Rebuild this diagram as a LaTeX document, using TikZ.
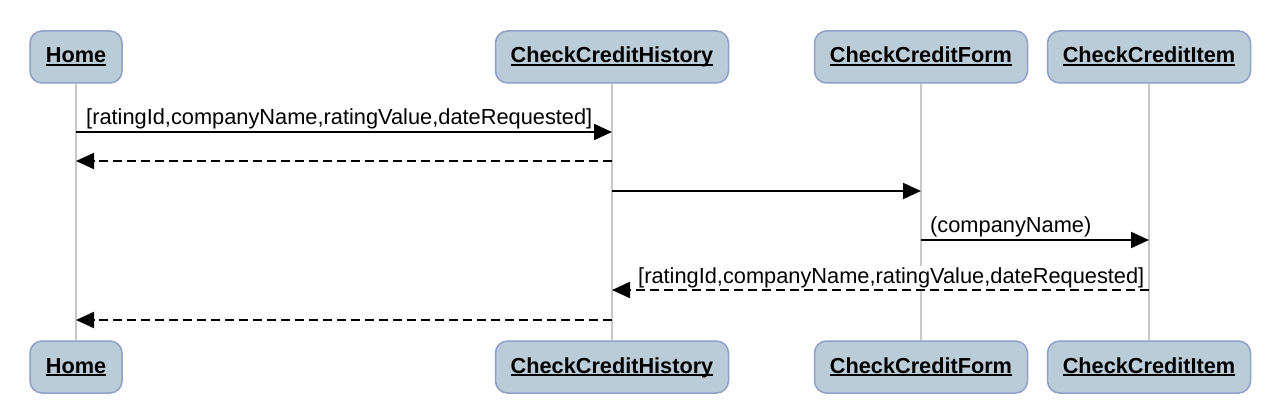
\documentclass[tikz,border=0pt]{standalone}
\usepackage{fontspec}
\setmainfont{Liberation Sans}
\usetikzlibrary{arrows.meta}
\newcommand\ulname[1]{\setbox0\hbox{#1}\rlap{\rule[-3pt]{\wd0}{1.6pt}}\box0}
\definecolor{boxfill}{RGB}{187,204,217}
\definecolor{boxdraw}{RGB}{140,160,200}
\definecolor{lifegray}{RGB}{200,200,200}
\begin{document}
\begin{tikzpicture}[x=1pt,y=-1pt,
 actor/.style={draw=boxdraw, fill=boxfill, line width=1.5pt, rounded corners=12pt, minimum height=52pt, inner sep=0pt, text height=15pt, text depth=3pt, font=\fontsize{21.7}{26}\selectfont\bfseries},
 life/.style={draw=lifegray, line width=1.5pt},
 msg/.style={line width=2pt, -{Triangle[length=18pt,width=16pt]}},
 ret/.style={msg, dash pattern=on 9pt off 5pt},
 lbl/.style={font=\fontsize{21.8}{26}\selectfont, inner sep=1pt, fill=white, anchor=base west}]
\useasboundingbox (0,0) rectangle (1282,414);
% actors
\node[actor, minimum width=92pt]  (h1) at (76,57)   {\ulname{Home}};
\node[actor, minimum width=233pt] (a1) at (612,57)  {\ulname{CheckCreditHistory}};
\node[actor, minimum width=213pt] (b1) at (921,57)  {\ulname{CheckCreditForm}};
\node[actor, minimum width=203pt] (c1) at (1149,57) {\ulname{CheckCreditItem}};
\node[actor, minimum width=92pt]  (h2) at (76,367)   {\ulname{Home}};
\node[actor, minimum width=233pt] (a2) at (612,367)  {\ulname{CheckCreditHistory}};
\node[actor, minimum width=213pt] (b2) at (921,367)  {\ulname{CheckCreditForm}};
\node[actor, minimum width=203pt] (c2) at (1149,367) {\ulname{CheckCreditItem}};
% lifelines
\draw[life] (h1) -- (h2);
\draw[life] (a1) -- (a2);
\draw[life] (b1) -- (b2);
\draw[life] (c1) -- (c2);
% message points
\coordinate (h-m1) at (76,132);  \coordinate (a-m1) at (612,132);
\coordinate (h-m2) at (76,161);  \coordinate (a-m2) at (612,161);
\coordinate (a-m3) at (612,191); \coordinate (b-m3) at (921,191);
\coordinate (b-m4) at (921,240); \coordinate (c-m4) at (1149,240);
\coordinate (c-m5) at (1149,290); \coordinate (a-m5) at (612,290);
\coordinate (a-m6) at (612,320); \coordinate (h-m6) at (76,320);
% labels
\node[lbl] (l1) at (85,125) {[ratingId,companyName,ratingValue,dateRequested]};
\node[lbl] (l4) at (929,233) {(companyName)};
\node[lbl] (l5) at (637,283) {[ratingId,companyName,ratingValue,dateRequested]};
% messages
\draw[msg] (h-m1) -- (a-m1);
\draw[ret] (a-m2) -- (h-m2);
\draw[msg] (a-m3) -- (b-m3);
\draw[msg] (b-m4) -- (c-m4);
\draw[ret] (c-m5) -- (a-m5);
\draw[ret] (a-m6) -- (h-m6);
\end{tikzpicture}
\end{document}
